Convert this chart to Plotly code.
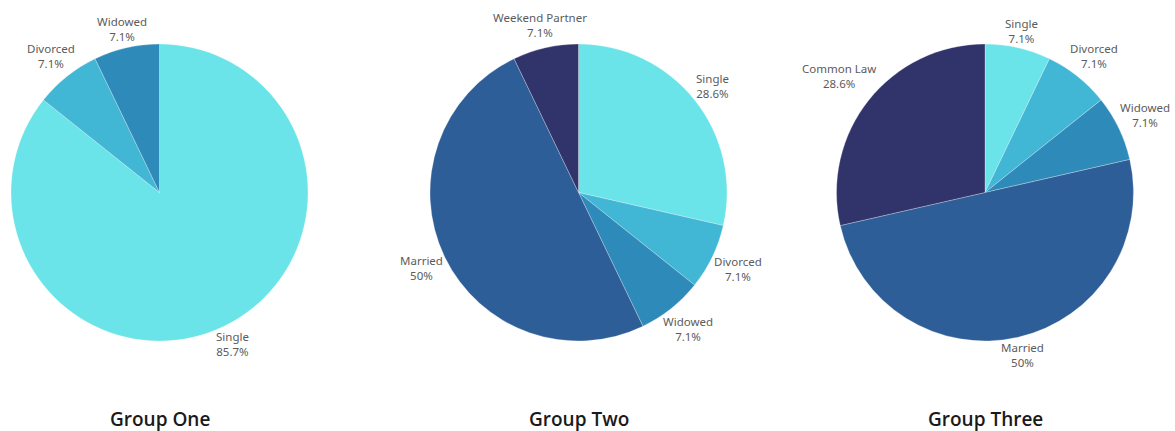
import math
import plotly.graph_objects as go

# Marital status counts for each group
group_names = ["Group One", "Group Two", "Group Three"]

labels_one = ["Single", "Divorced", "Widowed"]
values_one = [12, 1, 1]

labels_two = ["Single", "Divorced", "Widowed", "Married", "Weekend Partner"]
values_two = [4, 1, 1, 7, 1]

labels_three = ["Single", "Divorced", "Widowed", "Married", "Common Law"]
values_three = [1, 1, 1, 7, 4]

status_colors = {
    "Single": "#6AE4E8",
    "Divorced": "#42B6D5",
    "Widowed": "#2D8AB9",
    "Married": "#2E5E97",
    "Weekend Partner": "#30346B",
    "Common Law": "#30346B",
}

W, H = 1175, 431
# pie centres (px) and radius
centres_x = [159.5, 578.5, 985.0]
centre_y = 192.5
radius = 148.5

LABEL_FONT = dict(family="Noto Sans, Roboto, sans-serif", size=11.5, color="#5b5b5b")
LINE_BLOCK_H = 23.0   # height of a two-line label block
LABEL_GAP = 2.5


def pct_text(vals):
    total = sum(vals)
    out = []
    for v in vals:
        p = round(100.0 * v / total, 1)
        s = f"{p:.1f}".rstrip("0").rstrip(".")
        out.append(s + "%")
    return out


def text_width(s):
    # rough glyph advance estimate for the label font
    w = 0.0
    for ch in s:
        if ch in "il.1 jtfr":
            w += 3.6
        elif ch in "mwMW%":
            w += 9.5
        elif ch.isupper():
            w += 7.4
        else:
            w += 6.4
    return w


fig = go.Figure()
series = [(labels_one, values_one), (labels_two, values_two), (labels_three, values_three)]
for (labs, vals), cx in zip(series, centres_x):
    pcts = pct_text(vals)
    fig.add_trace(go.Pie(
        labels=labs,
        values=vals,
        sort=False,
        direction="clockwise",
        rotation=0,
        textinfo="none",
        marker=dict(colors=[status_colors[l] for l in labs],
                    line=dict(color="rgba(255,255,255,0.45)", width=0.6)),
        hoverinfo="label+percent",
        showlegend=False,
        domain=dict(x=[(cx - radius) / W, (cx + radius) / W],
                    y=[(H - centre_y - radius) / H, (H - centre_y + radius) / H]),
    ))

    # outside labels placed along each slice's middle angle
    total = float(sum(vals))
    start = 0.0
    for lab, v, p in zip(labs, vals, pcts):
        mid = (start + v / 2.0) / total * 2 * math.pi   # clockwise from 12 o'clock
        start += v
        ux, uy = math.sin(mid), -math.cos(mid)
        half_w = max(text_width(lab), text_width(p)) / 2.0
        dist = radius + LABEL_GAP + abs(ux) * half_w + abs(uy) * LINE_BLOCK_H / 2.0
        px = cx + ux * dist
        py = centre_y + uy * dist
        fig.add_annotation(
            x=px / W, y=(H - py) / H, xref="paper", yref="paper",
            text=f"{lab}<br>{p}", showarrow=False, font=LABEL_FONT,
            xanchor="center", yanchor="middle", align="center",
            borderpad=0,
        )

for name, cx in zip(group_names, centres_x):
    fig.add_annotation(
        x=cx / W, y=(H - 419) / H, xref="paper", yref="paper",
        text=name, showarrow=False,
        font=dict(family="Open Sans, sans-serif", size=19, color="#1a1a1a", weight=600),
        xanchor="center", yanchor="middle", borderpad=0,
    )

fig.update_layout(
    width=W, height=H,
    margin=dict(l=0, r=0, t=0, b=0),
    paper_bgcolor="white",
    plot_bgcolor="white",
)

fig.write_html("out.html")
